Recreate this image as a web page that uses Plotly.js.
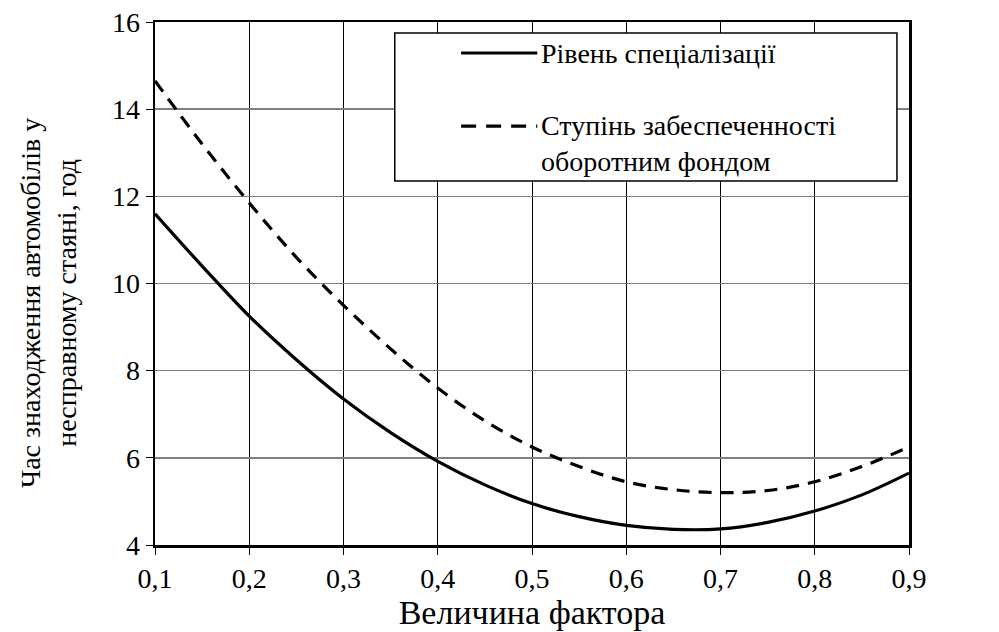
<!DOCTYPE html>
<html>
<head>
<meta charset="utf-8">
<script src="https://cdn.plot.ly/plotly-3.0.1.min.js"></script>
<style>
html,body{margin:0;padding:0;background:#fff}
#chart{width:999px;height:632px}
#chart svg text{fill:#000 !important}
#warm{position:absolute;left:0;top:0;font-family:'Liberation Serif';font-size:28px;color:#fff}
</style>
</head>
<body>
<div id="warm">&nbsp;</div>
<div id="chart"></div>
<script>
const xValues = [0.1,0.15,0.2,0.25,0.3,0.35,0.4,0.45,0.5,0.55,0.6,0.65,0.7,0.75,0.8,0.85,0.9];
const specialization = [11.6,10.4,9.25,8.25,7.35,6.58,5.92,5.38,4.95,4.65,4.45,4.36,4.37,4.52,4.78,5.15,5.65];
const fundSupply = [14.65,13.2,11.85,10.6,9.5,8.5,7.6,6.85,6.25,5.8,5.45,5.27,5.2,5.25,5.45,5.8,6.25];
const seriesNames = ["Рівень спеціалізації", "Ступінь забеспеченності<br>оборотним фондом"];
const xTickVals = [0.1,0.2,0.3,0.4,0.5,0.6,0.7,0.8,0.9];
const xTickText = ["0,1","0,2","0,3","0,4","0,5","0,6","0,7","0,8","0,9"];
const yTickVals = [4,6,8,10,12,14,16];
const xTitle = "Величина фактора";
const yTitle = "Час знаходження автомобілів у<br>несправному стаяні, год";

const F = "Liberation Serif";

const traces = [
  {x: xValues, y: specialization, mode: "lines", name: seriesNames[0],
   line: {color: "#000", width: 3.2, shape: "spline"}, showlegend: false},
  {x: xValues, y: fundSupply, mode: "lines", name: seriesNames[1],
   line: {color: "#000", width: 3.2, shape: "spline", dash: "13px,9px"}, showlegend: false}
];

const layout = {
  width: 999, height: 632,
  margin: {l: 155, r: 90, t: 22, b: 87},
  paper_bgcolor: "#fff", plot_bgcolor: "#fff",
  font: {family: F, size: 28},
  xaxis: {
    range: [0.1, 0.9], tickvals: xTickVals, ticktext: xTickText,
    showgrid: true, gridcolor: "#000", gridwidth: 1,
    showline: true, linecolor: "#000", linewidth: 2.5, mirror: true,
    ticks: "outside", ticklen: 7, tickcolor: "#000", tickwidth: 1,
    zeroline: false,
    title: {text: xTitle, standoff: 3}
  },
  yaxis: {
    range: [4, 16], tickvals: yTickVals,
    showgrid: true, gridcolor: "#808080", gridwidth: 1.5,
    showline: true, linecolor: "#000", linewidth: 2.5, mirror: true,
    ticks: "outside", ticklen: 7, tickcolor: "#000", tickwidth: 1,
    zeroline: false
  },
  shapes: [
    {type: "rect", xref: "paper", yref: "paper", x0: 0.318, x1: 0.984, y0: 0.696, y1: 0.979,
     line: {color: "#000", width: 1.5}, fillcolor: "#fff", layer: "above"},
    {type: "line", xref: "paper", yref: "paper", x0: 0.406, x1: 0.507, y0: 0.9407, y1: 0.9407,
     line: {color: "#000", width: 3.2}},
    {type: "line", xref: "paper", yref: "paper", x0: 0.406, x1: 0.507, y0: 0.801, y1: 0.801,
     line: {color: "#000", width: 3.2, dash: "15px,10px"}}
  ],
  annotations: [
    {xref: "paper", yref: "paper", x: 0.509, y: 0.9407, xanchor: "left", yanchor: "middle",
     text: seriesNames[0], showarrow: false},
    {xref: "paper", yref: "paper", x: 0.509, y: 0.7686, xanchor: "left", yanchor: "middle",
     text: seriesNames[1], showarrow: false, align: "left"},
    {xref: "paper", yref: "paper", x: -0.1419, y: 0.4627, xanchor: "center", yanchor: "middle",
     text: yTitle, textangle: -90, showarrow: false, align: "center"}
  ]
};

const config = {displayModeBar: false, staticPlot: true};
Plotly.newPlot("chart", traces, layout, config).then(function () {
  return document.fonts ? document.fonts.ready : null;
}).then(function () {
  return Plotly.react("chart", traces, layout, config);
});
</script>
</body>
</html>
